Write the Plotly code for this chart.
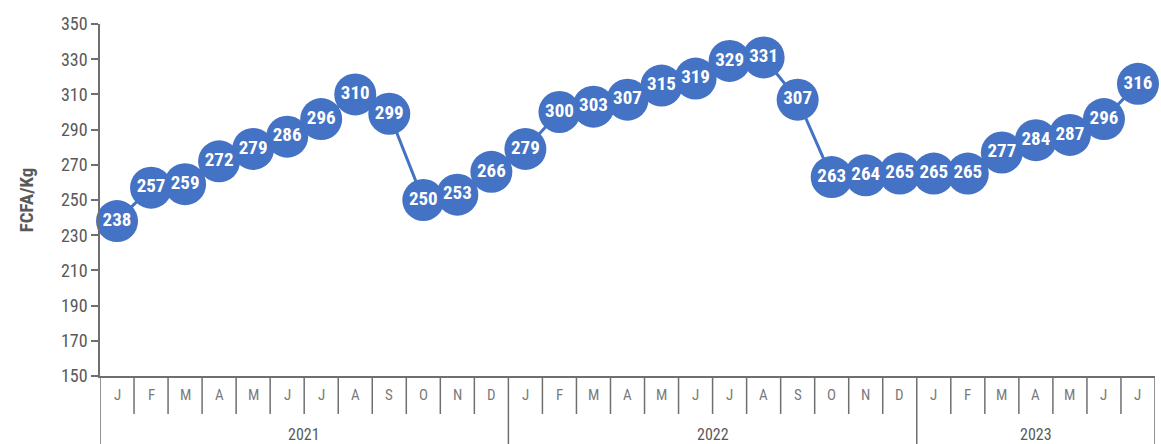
import plotly.graph_objects as go

# Monthly price series, Jan 2021 – Jul 2023
months = ["J", "F", "M", "A", "M", "J", "J", "A", "S", "O", "N", "D",
          "J", "F", "M", "A", "M", "J", "J", "A", "S", "O", "N", "D",
          "J", "F", "M", "A", "M", "J", "J"]
years = ["2021", "2022", "2023"]
months_per_year = [12, 12, 7]
prices = [238, 257, 259, 272, 279, 286, 296, 310, 299, 250, 253, 266,
          279, 300, 303, 307, 315, 319, 329, 331, 307, 263, 264, 265,
          265, 265, 277, 284, 287, 296, 316]

BLUE = "#4472C4"
GRID = "#6f6f6f"
TXT = "#595959"
FONT = "Liberation Sans Narrow, Roboto Condensed, Arial Narrow, Roboto, sans-serif"

x = list(range(len(prices)))

fig = go.Figure()
fig.add_trace(go.Scatter(
    x=x, y=prices,
    mode="lines+markers+text",
    line=dict(color=BLUE, width=3),
    marker=dict(color=BLUE, size=42, line=dict(width=0)),
    text=["<b>%d</b>" % v for v in prices],
    textposition="middle center",
    textfont=dict(color="white", size=19, family=FONT),
    hoverinfo="skip",
    cliponaxis=False,
))

# Table-style category axis: month cells and year cells
month_bottom = -38 / 352
year_bottom = -68 / 352
shapes = []
n = len(prices)
boundaries = [-0.5]
acc = -0.5
for m in months_per_year:
    acc += m
    boundaries.append(acc)
for k in range(n + 1):
    xv = k - 0.5
    full = any(abs(xv - b) < 1e-9 for b in boundaries)
    shapes.append(dict(type="line", xref="x", yref="paper",
                       x0=xv, x1=xv, y0=0, y1=year_bottom if full else month_bottom,
                       line=dict(color=GRID, width=1.5)))

annotations = []
start = 0
for yr, m in zip(years, months_per_year):
    annotations.append(dict(x=start + (m - 1) / 2, y=-59 / 352, xref="x", yref="paper",
                            text=yr, showarrow=False,
                            font=dict(size=16, color=TXT, family=FONT),
                            xanchor="center", yanchor="middle"))
    start += m
for i, mo in enumerate(months):
    annotations.append(dict(x=i, y=-19 / 352, xref="x", yref="paper",
                            text=mo, showarrow=False,
                            font=dict(size=15, color="#7a7a7a", family=FONT),
                            xanchor="center", yanchor="middle"))

fig.update_layout(
    width=1161, height=444,
    margin=dict(l=100, r=6, t=24, b=68),
    paper_bgcolor="white", plot_bgcolor="white",
    showlegend=False,
    shapes=shapes,
    annotations=annotations,
    xaxis=dict(range=[-0.5, n - 0.5], showticklabels=False, ticks="",
               showgrid=False, zeroline=False,
               showline=True, linecolor=GRID, linewidth=1.5, fixedrange=True),
    yaxis=dict(range=[150, 350], tickmode="linear", tick0=150, dtick=20,
               ticks="outside", ticklen=7, tickcolor=GRID, tickwidth=1.5,
               showline=True, linecolor=GRID, linewidth=1.5,
               showgrid=False, zeroline=False,
               tickfont=dict(size=18, color=TXT, family=FONT),
               title=dict(text="<b>FCFA/Kg</b>", standoff=22,
                          font=dict(size=19, color=TXT, family=FONT))),
)

fig.write_html("out.html")
